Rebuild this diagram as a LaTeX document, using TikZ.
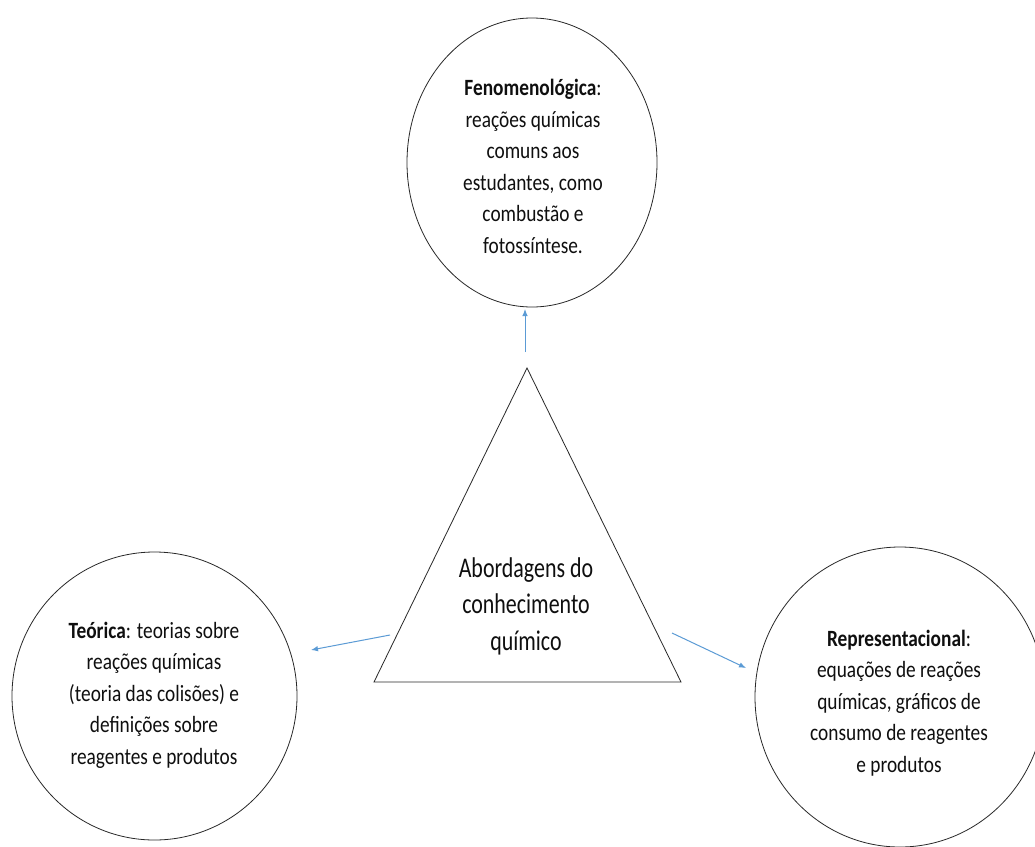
\documentclass[tikz,border=0pt]{standalone}
\usepackage{fontspec}
\setmainfont{Carlito}
\newfontfamily\circfont{Carlito}[FakeStretch=0.83]
\newfontfamily\trifont{Carlito}[FakeStretch=0.77]
\usetikzlibrary{arrows.meta,shapes.geometric}
\definecolor{arrowblue}{RGB}{91,155,213}
\definecolor{outline}{RGB}{40,40,40}
\definecolor{txt}{RGB}{15,15,15}
\begin{document}
\begin{tikzpicture}[x=1pt,y=-1pt,
  bubble/.style={draw=outline, line width=0.8pt, ellipse, inner sep=0pt},
  label/.style={align=center, inner sep=0pt, text=txt, font=\circfont\fontsize{23.3}{31.5}\selectfont},
  biglabel/.style={align=center, inner sep=0pt, text=txt, font=\trifont\fontsize{28.5}{36.5}\selectfont},
  link/.style={draw=arrowblue, line width=1pt, -{Latex[length=7pt,width=5.5pt]}}]
\clip (0,0) rectangle (1035,846);
\fill[white] (0,0) rectangle (1035,846);
% circles
\node[bubble, minimum width=250pt, minimum height=289pt] (fen) at (532,162.5) {};
\node[bubble, minimum width=285pt, minimum height=288pt] (teo) at (154.5,696) {};
\node[bubble, minimum width=290pt, minimum height=300pt] (rep) at (900,697) {};
% texts
\node[label] (fentxt) at (533,166.5) {\textbf{Fenomenológica}:\\reações químicas\\comuns aos\\estudantes, como\\combustão e\\fotossíntese.};
\node[label] (teotxt) at (154,695) {\textbf{Teórica}: teorias sobre\\reações químicas\\(teoria das colisões) e\\definições sobre\\reagentes e produtos};
\node[label] (reptxt) at (899,703) {\textbf{Representacional}:\\equações de reações\\químicas, gráficos de\\consumo de reagentes\\e produtos};
% triangle
\coordinate (apex) at (527,368);
\coordinate (bl) at (374,682);
\coordinate (br) at (681,682);
\draw[outline, line width=0.8pt, line join=miter] (apex) -- (bl) -- (br) -- cycle;
\node[biglabel] (abord) at (526,606) {Abordagens do\\conhecimento\\químico};
% arrows
\coordinate (upS) at (525,352);
\coordinate (upE) at (525,309);
\coordinate (lS) at (390,635);
\coordinate (lE) at (311,650);
\coordinate (rS) at (672,633);
\coordinate (rE) at (746,668);
\draw[link] (upS) -- (upE);
\draw[link] (lS) -- (lE);
\draw[link] (rS) -- (rE);
\end{tikzpicture}
\end{document}
